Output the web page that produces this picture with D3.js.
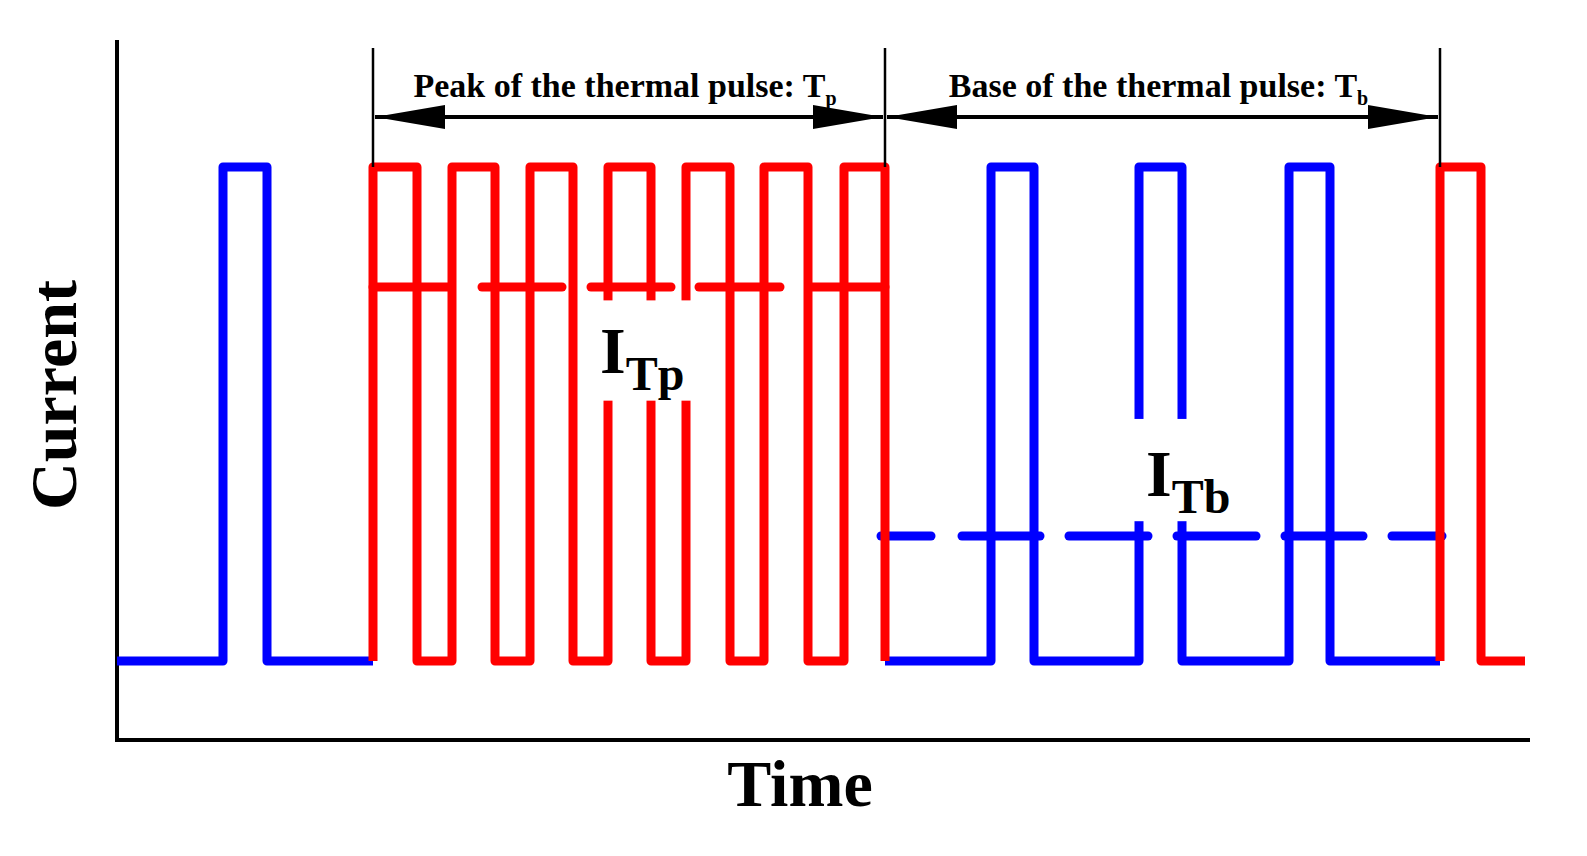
<!DOCTYPE html>
<html><head><meta charset="utf-8">
<script src="https://cdn.jsdelivr.net/npm/d3@7"></script>
<style>body{margin:0;background:#fff}</style>
</head><body><svg id="chart"></svg>
<script>
// step waveforms: [time, level] (level 0 = base current, 1 = pulse current)
const blueA = [[0,0],[106,0],[106,1],[150,1],[150,0],[256,0]];
const blueB = [[768,0],[874,0],[874,1],[917,1],[917,0],[1022,0],[1022,1],[1065,1],[1065,0],[1172,0],[1172,1],[1213,1],[1213,0],[1323,0]];
const redA = [[256,0],[256,1],[300,1],[300,0],[335,0],[335,1],[378,1],[378,0],[413,0],[413,1],[456,1],[456,0],[491,0],[491,1],[534,1],[534,0],[569,0],[569,1],[613,1],[613,0],[647,0],[647,1],[691,1],[691,0],[727,0],[727,1],[768,1],[768,0]];
const redB = [[1323,0],[1323,1],[1364,1],[1364,0],[1408,0]];
// dashed mean-current lines: [start, end] in time units
const redMean = 0.757, blueMean = 0.253;
const redDashes = [[256,331],[365,445],[474,554],[582,663],[695,768]];
const blueDashes = [[764,814],[845,923],[952,1031],[1060,1139],[1168,1246],[1275,1325]];
// gaps cut into the waveforms around the labels: [time, levelTop, levelBottom]
const redGaps = [[491,0.73,0.527],[534,0.73,0.527],[569,0.73,0.527]];
const blueGaps = [[1022,0.49,0.283],[1065,0.49,0.283]];
const spans = [{from:256,to:768,label:'Peak of the thermal pulse: T',sub:'p'},
               {from:768,to:1323,label:'Base of the thermal pulse: T',sub:'b'}];

const W = 1587, H = 856;
const svg = d3.select('#chart').attr('width', W).attr('height', H)
  .style('font-family', '"Liberation Serif", "DejaVu Serif", serif').style('font-weight', 'bold');

const x = d3.scaleLinear().domain([0, 1411]).range([117, 1528]);
const y = d3.scaleLinear().domain([0, 1]).range([661, 167]);
const line = d3.line().x(d => x(d[0])).y(d => y(d[1]));

// axes
svg.append('path').attr('d', `M117,40V740H1530`).attr('fill', 'none')
  .attr('stroke', '#000').attr('stroke-width', 4);

function wave(data, color) {
  svg.append('path').attr('d', line(data)).attr('fill', 'none')
    .attr('stroke', color).attr('stroke-width', 9).attr('stroke-linejoin', 'round');
}
function dashes(data, level, color) {
  svg.selectAll(null).data(data).enter().append('line')
    .attr('x1', d => x(d[0])).attr('x2', d => x(d[1]))
    .attr('y1', y(level)).attr('y2', y(level))
    .attr('stroke', color).attr('stroke-width', 9).attr('stroke-linecap', 'round');
}
function gaps(data) {
  svg.selectAll(null).data(data).enter().append('rect')
    .attr('x', d => x(d[0]) - 7).attr('width', 14)
    .attr('y', d => y(d[1])).attr('height', d => y(d[2]) - y(d[1]))
    .attr('fill', '#fff');
}

wave(blueA, '#0000ff');
wave(blueB, '#0000ff');
dashes(blueDashes, blueMean, '#0000ff');
gaps(blueGaps);
wave(redA, '#ff0000');
wave(redB, '#ff0000');
dashes(redDashes, redMean, '#ff0000');
gaps(redGaps);

// span markers and arrows
svg.append('defs').selectAll('marker').data(['s', 'e']).enter().append('marker')
  .attr('id', d => 'arr' + d).attr('viewBox', '0 0 70 24').attr('markerUnits', 'userSpaceOnUse')
  .attr('markerWidth', 70).attr('markerHeight', 24).attr('refX', d => d === 'e' ? 70 : 0).attr('refY', 12)
  .attr('orient', 'auto')
  .append('path').attr('d', d => d === 'e' ? 'M0,0L70,12L0,24Z' : 'M70,0L0,12L70,24Z').attr('fill', '#000');

[256, 768, 1323].forEach(t => {
  svg.append('line').attr('x1', x(t)).attr('x2', x(t)).attr('y1', 48).attr('y2', 167)
    .attr('stroke', '#000').attr('stroke-width', 2.5);
});
spans.forEach(s => {
  svg.append('line').attr('x1', x(s.from) + 2).attr('x2', x(s.to) - 2).attr('y1', 117).attr('y2', 117)
    .attr('stroke', '#000').attr('stroke-width', 4)
    .attr('marker-start', 'url(#arrs)').attr('marker-end', 'url(#arre)');
  const t = svg.append('text').attr('x', (x(s.from) + x(s.to)) / 2 - 4).attr('y', 97)
    .attr('text-anchor', 'middle').attr('font-size', 34);
  t.append('tspan').text(s.label);
  t.append('tspan').attr('font-size', 20).attr('dy', 8).text(s.sub);
});

// labels
function sublabel(px, py, sub) {
  const t = svg.append('text').attr('x', px).attr('y', py).attr('font-size', 66);
  t.append('tspan').text('I');
  t.append('tspan').attr('font-size', 48).attr('dy', 17).text(sub);
}
sublabel(600, 373, 'Tp');
sublabel(1146, 496, 'Tb');

svg.append('text').attr('transform', 'translate(76,395) rotate(-90)').attr('text-anchor', 'middle')
  .attr('font-size', 66).text('Current');
svg.append('text').attr('x', 800).attr('y', 806).attr('text-anchor', 'middle')
  .attr('font-size', 66).text('Time');
</script></body></html>
